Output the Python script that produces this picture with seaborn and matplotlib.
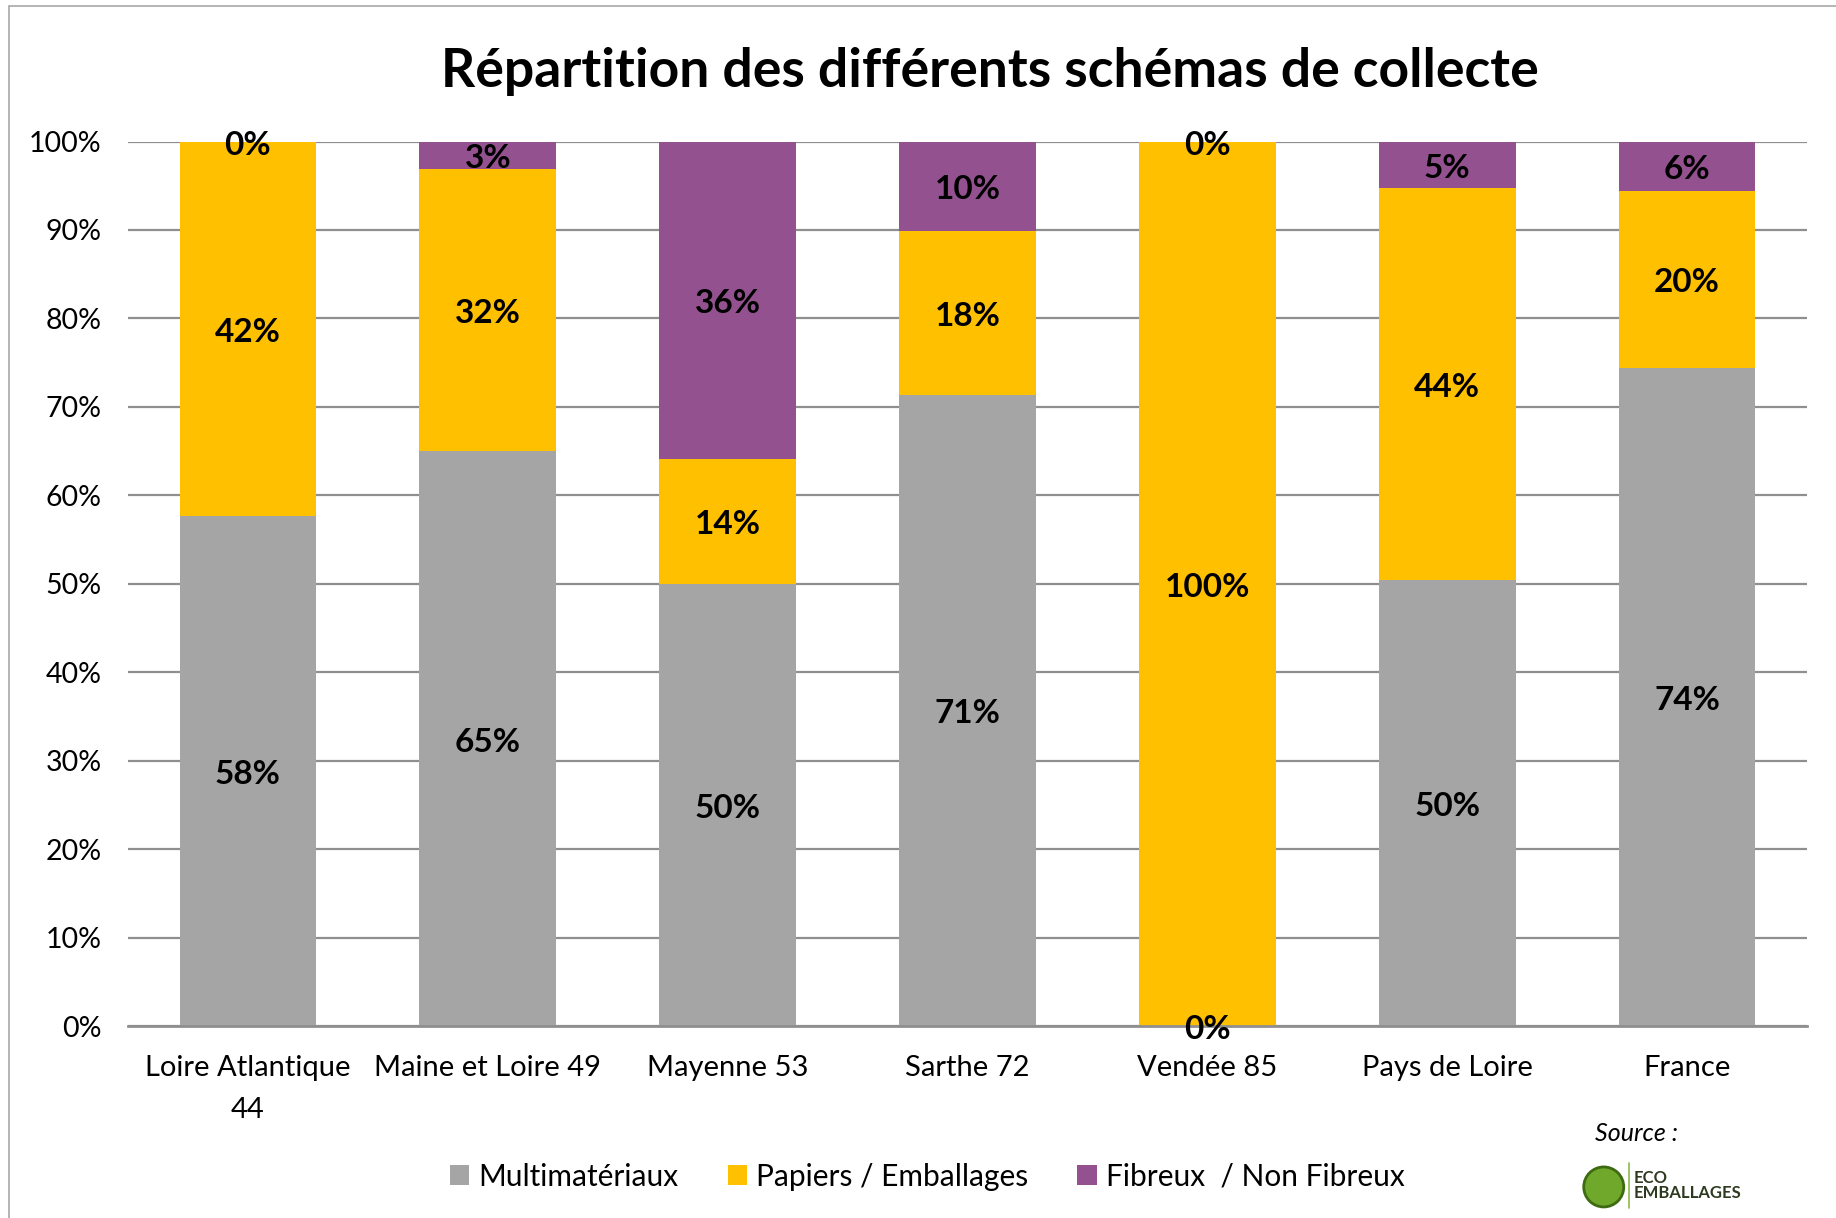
import numpy as np
import pandas as pd
import matplotlib
matplotlib.use("Agg")
import matplotlib.pyplot as plt
import matplotlib.patches as mpatches
import seaborn as sns

categories = ["Loire Atlantique\n44", "Maine et Loire 49", "Mayenne 53", "Sarthe 72",
              "Vendée 85", "Pays de Loire", "France"]
multimateriaux = [57.7, 65.0, 50.0, 71.4, 0.0, 50.4, 74.4]
papiers = [42.3, 31.9, 14.1, 18.5, 100.0, 44.4, 20.0]
fibreux = [0.0, 3.1, 35.9, 10.1, 0.0, 5.2, 5.6]
series_names = ["Multimatériaux", "Papiers / Emballages", "Fibreux  / Non Fibreux"]
colors = ["#A5A5A5", "#FFC000", "#93528F"]
y_ticks = list(range(0, 101, 10))

sns.set_theme(style="white")
plt.rcParams['font.family'] = ['Lato', 'DejaVu Sans']
plt.rcParams['text.color'] = 'black'
plt.rcParams['xtick.color'] = 'black'
plt.rcParams['ytick.color'] = 'black'

fig = plt.figure(figsize=(18.36, 12.18), dpi=100)
ax = fig.add_axes([0.0697, 0.1576, 0.9145, 0.7262])

df = pd.DataFrame({"cat": categories, "m": multimateriaux, "p": papiers, "f": fibreux})
df["c1"] = df["m"]
df["c2"] = df["m"] + df["p"]
df["c3"] = df["m"] + df["p"] + df["f"]

bw = 0.57
for col, color in zip(["c3", "c2", "c1"], colors[::-1]):
    sns.barplot(data=df, x="cat", y=col, color=color, saturation=1, width=bw, ax=ax,
                order=categories, errorbar=None, linewidth=0, zorder=3)

# labels
for i, row in df.iterrows():
    segs = [(0, row["m"]), (row["c1"], row["p"]), (row["c2"], row["f"])]
    for b, h in segs:
        ax.annotate(f"{h:.0f}%", xy=(i, b + h / 2), xytext=(0, -2.5), textcoords="offset points",
                    ha="center", va="center", fontsize=24, fontweight="bold",
                    color="black", zorder=5)

ax.set_ylim(0, 100)
ax.set_xlim(-0.5, len(categories) - 0.5)
ax.set_yticks(y_ticks)
ax.set_yticklabels([f"{t}%" for t in y_ticks], fontsize=20.5)
ax.tick_params(axis="y", length=0, pad=19)
ax.tick_params(axis="x", length=0, pad=21, labelsize=21)
for lbl in ax.get_xticklabels():
    lbl.set_linespacing(1.75)
ax.set_xlabel("")
ax.set_ylabel("")
ax.yaxis.grid(True, color="#8F8F8F", linewidth=1.6)
ax.set_axisbelow(True)
for s in ["left", "right", "top"]:
    ax.spines[s].set_visible(False)
ax.spines["bottom"].set_color("#8F8F8F")
ax.spines["bottom"].set_linewidth(2)
ax.spines["bottom"].set_zorder(4)

fig.text(0.539, 0.941, "Répartition des différents schémas de collecte",
         ha="center", va="center", fontsize=38.5, fontweight="bold", color="black")

handles = [mpatches.Patch(facecolor=c, edgecolor="none", label=n) for c, n in zip(colors, series_names)]
fig.legend(handles=handles, loc="center", bbox_to_anchor=(0.505, 0.034), ncol=3, frameon=False,
           fontsize=21.5, handlelength=0.65, handleheight=0.65, handletextpad=0.3, columnspacing=1.65)

# source + logo
fig.text(0.869, 0.069, "Source :", fontsize=18, style="italic", ha="left", va="center")
logo = mpatches.Ellipse((0.8735, 0.0255), 40 / 1836, 40 / 1218, transform=fig.transFigure,
                        facecolor="#6FA82B", edgecolor="#3E6B12", linewidth=2)
fig.add_artist(logo)
fig.add_artist(plt.Line2D([0.8875, 0.8875], [0.008, 0.045], color="#8DBA4B", linewidth=1.2,
                          transform=fig.transFigure))
fig.text(0.890, 0.0265, "ECO\nEMBALLAGES", fontsize=12, color="#2E3A20", ha="left", va="center",
         linespacing=0.95, fontweight="bold")

# figure border
fig.add_artist(mpatches.Rectangle((0.005, -0.01), 1.0, 1.005, transform=fig.transFigure,
                                  fill=False, edgecolor="#A8A8A8", linewidth=1.2))

fig.savefig("out.png", dpi=100)
